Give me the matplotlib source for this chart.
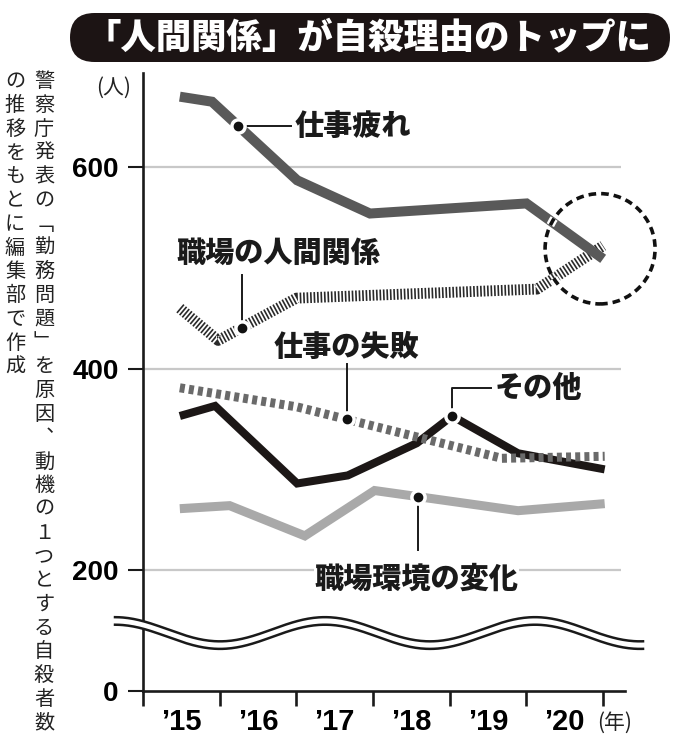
import numpy as np
import matplotlib
matplotlib.use("Agg")
import matplotlib.pyplot as plt
import matplotlib.patheffects as pe
from matplotlib import font_manager
from matplotlib.patches import FancyBboxPatch, Ellipse

# 数値フォント(細めのサンセリフ)
_names = {f.name for f in font_manager.fontManager.ttflist}
NUM_FONT = "Liberation Sans Narrow" if "Liberation Sans Narrow" in _names else "Liberation Sans"
JP_FONT = ["Noto Sans CJK JP", "DejaVu Sans"]

plt.rcParams["font.family"] = JP_FONT
plt.rcParams["lines.scale_dashes"] = False

# ---- データ(年の位置は目盛り区切り=0..6) ----
year_labels = ["’15", "’16", "’17", "’18", "’19", "’20"]
y_tick_values = [200, 400, 600]
y_tick_labels = ["0", "200", "400", "600"]
y_floor = 80      # 波線で省略した下端(0を表示する位置)

fatigue_x = [0.48, 0.90, 2.01, 2.96, 5.00, 6.00]
fatigue_y = [670, 665, 587, 554, 564, 509]

relation_x = [0.48, 0.98, 2.00, 5.14, 6.00]
relation_y = [460, 428, 470, 479, 522]

failure_x = [0.48, 2.01, 4.68, 6.02]
failure_y = [381, 362, 311, 313]

other_x = [0.48, 0.94, 2.01, 2.67, 3.26, 3.57, 4.03, 4.89, 6.02]
other_y = [353, 363, 286, 294, 315, 326, 353, 316, 300]

env_x = [0.48, 1.13, 2.11, 3.02, 4.89, 6.02]
env_y = [261, 264, 234, 279, 259, 266]

fig = plt.figure(figsize=(6.75, 7.5), dpi=100)
W, H = 675, 750
ax = fig.add_axes([143 / W, 1 - 691 / H, (625 - 143) / W, (691 - 73) / H])
ax.set_xlim(0, 6.285)
ax.set_ylim(y_floor, 693.5)

# 補助線
ax.hlines(y_tick_values, 0, 6.23, color="#c8c8c8", lw=1.6, zorder=1)

# 折れ線
ax.plot(env_x, env_y, color="#a9a9a9", lw=6.5, solid_capstyle="butt",
        solid_joinstyle="miter", zorder=2)
ax.plot(other_x, other_y, color="#1c1716", lw=5.8, solid_capstyle="butt",
        solid_joinstyle="miter", zorder=3)
ax.plot(failure_x, failure_y, color="#6a6a6a", lw=6.5, dashes=(3.6, 3.0),
        dash_capstyle="butt", zorder=4)
ax.plot(relation_x, relation_y, color="#2a2a2a", lw=7.8, dashes=(1.2, 1.3),
        dash_capstyle="butt", zorder=4)
ax.plot(fatigue_x, fatigue_y, color="#595959", lw=7.2, solid_capstyle="butt",
        solid_joinstyle="miter", zorder=5)

# 注目の点線円
ring = Ellipse((5.96, 519), 1.434, 109.5, fill=False, ec="#111111",
               lw=2.6, ls=(0, (5.5, 3.6)), clip_on=False, zorder=6)
ring.set_path_effects([pe.Stroke(linewidth=6, foreground="white"), pe.Normal()])
ax.add_patch(ring)


def mark(xs, ys, x0):
    y0 = np.interp(x0, xs, ys)
    ax.plot(x0, y0, "o", ms=11, mfc="white", mec="white", zorder=7, clip_on=False)
    ax.plot(x0, y0, "o", ms=6, mfc="#111111", mec="#111111", zorder=8, clip_on=False)
    return y0


lab = dict(fontsize=21, fontweight="heavy", color="#1a1a1a", zorder=9,
           bbox=dict(fc="white", ec="none", pad=0.5))
lead = dict(color="#1a1a1a", lw=1.4, zorder=6)

# 仕事疲れ
y0 = mark(fatigue_x, fatigue_y, 1.24)
ax.plot([1.24, 1.93], [y0, y0], **lead)
ax.text(1.98, y0, "仕事疲れ", ha="left", va="center", **lab)

# 職場の人間関係
y0 = mark(relation_x, relation_y, 1.29)
ax.plot([1.29, 1.29], [y0, 493], **lead)
ax.text(1.76, 515, "職場の人間関係", ha="center", va="center", **lab)

# 仕事の失敗
y0 = mark(failure_x, failure_y, 2.66)
ax.plot([2.66, 2.66], [y0, 405], **lead)
ax.text(2.65, 421, "仕事の失敗", ha="center", va="center", **lab)

# その他
y0 = mark(other_x, other_y, 4.03)
ax.plot([4.03, 4.03, 4.54], [y0, 381, 381], **lead)
ax.text(4.59, 381, "その他", ha="left", va="center", **lab)

# 職場環境の変化
y0 = mark(env_x, env_y, 3.59)
ax.plot([3.59, 3.59], [y0, 220], **lead)
ax.text(3.57, 191, "職場環境の変化", ha="center", va="center", **lab)

# 軸
for s in ["top", "right"]:
    ax.spines[s].set_visible(False)
for s in ["left", "bottom"]:
    ax.spines[s].set_linewidth(1.9)
    ax.spines[s].set_color("#1a1a1a")

ax.set_yticks([y_floor] + y_tick_values)
ax.set_yticklabels(y_tick_labels, fontfamily=NUM_FONT, fontweight="bold", fontsize=20)
ax.tick_params(axis="y", length=10.5, width=1.5, pad=7, color="#1a1a1a")

ax.set_xticks(range(7))
ax.set_xticklabels([])
ax.tick_params(axis="x", which="major", length=11, width=1.9, color="#1a1a1a")
ax.set_xticks(np.arange(len(year_labels)) + 0.5, minor=True)
ax.set_xticklabels(year_labels, minor=True, fontfamily=NUM_FONT,
                   fontweight="bold", fontsize=21)
ax.tick_params(axis="x", which="minor", length=0, pad=12)

# 省略を示す波線
wx = np.linspace(-0.365, 6.52, 400)
wtop = 141.3 + 12 * np.cos(2 * np.pi * (wx + 0.365) / 2.738)
wbot = wtop - 7.5
ax.fill_between(wx, wbot, wtop, color="white", lw=0, zorder=10, clip_on=False)
ax.plot(wx, wtop, color="#1a1a1a", lw=1.8, zorder=11, clip_on=False)
ax.plot(wx, wbot, color="#1a1a1a", lw=1.8, zorder=11, clip_on=False)

# 単位
fig.text(114 / W, 1 - 88 / H, "(人)", ha="center", va="center", fontsize=15,
         color="#222222")
fig.text(615 / W, 1 - 723 / H, "(年)", ha="center", va="center", fontsize=15,
         color="#222222")

# タイトル
fig.patches.append(FancyBboxPatch((0.70, 7.5 - 0.62), 6.0, 0.49,
                                  boxstyle="round,pad=0,rounding_size=0.245",
                                  transform=fig.dpi_scale_trans, fc="#1c1414",
                                  ec="none"))
fig.text(368 / W, 1 - 38 / H, "「人間関係」が自殺理由のトップに", ha="center",
         va="center", fontsize=25.5, fontweight="heavy", color="white")

# 縦書きの出典
note_right = "警察庁発表の﹁勤務問題﹂を原因︑動機の１つとする自殺者数"
note_left = "の推移をもとに編集部で作成"
pitch = 23.75
for col_x, note in [(44, note_right), (15, note_left)]:
    for i, ch in enumerate(note):
        fig.text(col_x / W, 1 - (70 + pitch * (i + 0.5)) / H, ch, ha="center",
                 va="center", fontsize=14.5, color="#222222")

fig.savefig("out.png", dpi=100, facecolor="white")
